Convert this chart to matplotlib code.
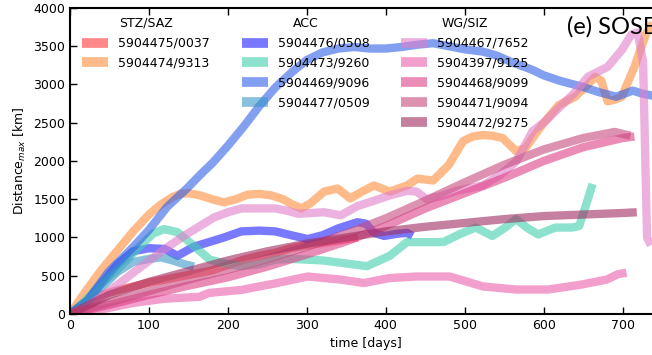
import matplotlib
matplotlib.use("Agg")
import matplotlib.pyplot as plt
from matplotlib.lines import Line2D

# float trajectories: days since deployment and max distance [km]
d_0037 = [0, 20, 40, 60, 80, 100, 120, 140, 160, 180, 200, 220, 240, 260, 280, 300, 320, 340, 365]
v_0037 = [0, 150, 250, 310, 360, 410, 450, 490, 530, 570, 640, 710, 760, 800, 860, 900, 930, 960, 1000]

d_9313 = [0, 20, 40, 60, 80, 100, 115, 130, 140, 150, 165, 180, 195, 210, 225, 240, 255, 270, 280,
          293, 305, 322, 339, 355, 370, 385, 405, 427, 440, 460, 480, 498, 510, 523, 535, 548, 565,
          577, 598, 619, 640, 656, 665, 673, 681, 690, 699, 715, 730, 745]
v_9313 = [0, 300, 580, 830, 1080, 1300, 1430, 1530, 1570, 1580, 1550, 1500, 1460, 1500, 1560, 1570,
          1550, 1500, 1440, 1380, 1450, 1600, 1640, 1510, 1600, 1680, 1600, 1680, 1770, 1745, 1950,
          2260, 2320, 2340, 2330, 2300, 2130, 2170, 2470, 2730, 2840, 3000, 3100, 3050, 2780, 2800,
          2840, 3230, 3670, 3900]

d_0508 = [0, 20, 40, 60, 80, 100, 120, 136, 157, 176, 195, 217, 240, 260, 280, 301, 320, 340, 364,
          375, 385, 398, 415, 427, 434]
v_0508 = [0, 150, 400, 650, 820, 860, 850, 760, 880, 940, 1000, 1080, 1090, 1080, 1030, 980, 1030,
          1120, 1200, 1180, 1060, 1020, 1050, 1060, 1020]

d_9260 = [0, 20, 40, 60, 89, 105, 119, 136, 157, 177, 197, 217, 240, 260, 280, 301, 320, 343, 376,
          405, 427, 439, 473, 495, 514, 535, 550, 565, 580, 593, 615, 636, 645, 656, 662]
v_9260 = [0, 180, 400, 580, 890, 1050, 1110, 1070, 890, 710, 660, 625, 650, 710, 720, 710, 700, 670,
          625, 760, 940, 940, 940, 1050, 1130, 1020, 1120, 1240, 1120, 1040, 1130, 1130, 1150, 1500, 1700]

d_9096 = [0, 23, 48, 65, 81, 100, 123, 148, 165, 181, 200, 220, 240, 260, 282, 300, 320, 340, 360,
          380, 400, 420, 440, 460, 480, 500, 523, 540, 560, 586, 600, 620, 649, 670, 692, 700, 713,
          725, 740]
v_9096 = [0, 185, 540, 720, 885, 1100, 1400, 1640, 1820, 1980, 2200, 2450, 2720, 2960, 3170, 3320,
          3420, 3470, 3490, 3470, 3470, 3490, 3520, 3540, 3500, 3460, 3430, 3380, 3290, 3190, 3120,
          3050, 2970, 2900, 2840, 2870, 2920, 2880, 2850]

d_0509 = [0, 20, 40, 60, 80, 100, 115, 130, 145, 157]
v_0509 = [0, 150, 350, 550, 680, 720, 740, 700, 650, 620]

d_7652 = [0, 20, 40, 60, 80, 102, 120, 144, 160, 182, 200, 217, 240, 260, 275, 289, 305, 322, 343,
          364, 385, 405, 427, 439, 452, 470, 490, 523, 545, 565, 586, 600, 615, 640, 656, 681, 699,
          711, 719, 726, 731, 736]
v_7652 = [0, 80, 230, 380, 540, 710, 850, 1020, 1120, 1260, 1330, 1380, 1380, 1380, 1350, 1310,
          1320, 1330, 1290, 1410, 1480, 1550, 1610, 1600, 1500, 1540, 1610, 1680, 1820, 1990, 2390,
          2500, 2650, 2900, 3100, 3230, 3450, 3650, 3680, 3300, 1000, 900]

d_9125 = [0, 40, 80, 120, 164, 176, 217, 260, 301, 343, 372, 405, 439, 481, 523, 565, 606, 648,
          680, 694, 705]
v_9125 = [0, 60, 145, 200, 225, 275, 315, 400, 490, 450, 405, 470, 490, 490, 360, 320, 320, 385,
          450, 520, 540]

d_9099 = [0, 50, 100, 150, 200, 250, 300, 350, 400, 450, 500, 550, 600, 650, 700, 715]
v_9099 = [0, 120, 250, 370, 480, 620, 780, 950, 1150, 1380, 1580, 1780, 2000, 2180, 2300, 2320]

d_9094 = [0, 50, 100, 150, 200, 250, 300, 350, 400, 450, 500, 550, 600, 650, 690, 710]
v_9094 = [0, 150, 300, 450, 580, 720, 880, 1050, 1250, 1480, 1720, 1950, 2150, 2300, 2380, 2330]

d_9275 = [0, 50, 100, 150, 200, 250, 300, 350, 400, 450, 500, 550, 600, 650, 700, 718]
v_9275 = [0, 250, 420, 560, 700, 820, 920, 1000, 1080, 1140, 1190, 1240, 1280, 1300, 1320, 1330]

groups = [
    ("STZ/SAZ", [("5904475/0037", d_0037, v_0037, "#ff3b3b"),
                 ("5904474/9313", d_9313, v_9313, "#ff8c3a")]),
    ("ACC", [("5904476/0508", d_0508, v_0508, "#2020ff"),
             ("5904473/9260", d_9260, v_9260, "#3fcfac"),
             ("5904469/9096", d_9096, v_9096, "#2f5fe6"),
             ("5904477/0509", d_0509, v_0509, "#3a96c8")]),
    ("WG/SIZ", [("5904467/7652", d_7652, v_7652, "#e07ec8"),
                ("5904397/9125", d_9125, v_9125, "#ec5fae"),
                ("5904468/9099", d_9099, v_9099, "#dd3f86"),
                ("5904471/9094", d_9094, v_9094, "#c84a7e"),
                ("5904472/9275", d_9275, v_9275, "#a02c60")]),
]

plt.rcParams["font.size"] = 9
fig = plt.figure(figsize=(6.52, 3.55), dpi=100)
ax = fig.add_axes([0.1074, 0.1155, 0.908, 0.862])

alpha = 0.6
lw = 6
for title, members in groups:
    for label, days, dist, color in members:
        ax.plot(days, dist, color=color, lw=lw, alpha=alpha, solid_capstyle="butt")

ax.set_xlim(0, 750)
ax.set_ylim(0, 4000)
ax.set_xticks(range(0, 800, 100))
ax.set_yticks(range(0, 4001, 500))
ax.tick_params(direction="in", top=True, right=True, length=5, width=1, labelsize=9)
for s in ax.spines.values():
    s.set_linewidth(1.5)
ax.set_xlabel("time [days]", fontsize=9)
ax.set_ylabel("Distance$_{max}$ [km]", fontsize=9)
ax.text(567 / 652, 1 - 34 / 355, "(e) SOSE", transform=fig.transFigure,
        fontsize=17, family="Lato")

# one frameless legend per region
anchors = [(77 / 652, 1 - 12 / 355), (237 / 652, 1 - 12 / 355), (396 / 652, 1 - 12 / 355)]
for (title, members), anchor in zip(groups, anchors):
    handles = [Line2D([], [], color=c, lw=7, alpha=alpha, solid_capstyle="butt")
               for _, _, _, c in members]
    labels = [m[0] for m in members]
    leg = ax.legend(handles, labels, title=title, loc="upper left", bbox_to_anchor=anchor,
                    bbox_transform=fig.transFigure, frameon=False, fontsize=9,
                    title_fontsize=9, handlelength=2.1, borderaxespad=0, labelspacing=0.55)
    ax.add_artist(leg)
ax.legend_ = None

fig.savefig("out.png", dpi=100)
